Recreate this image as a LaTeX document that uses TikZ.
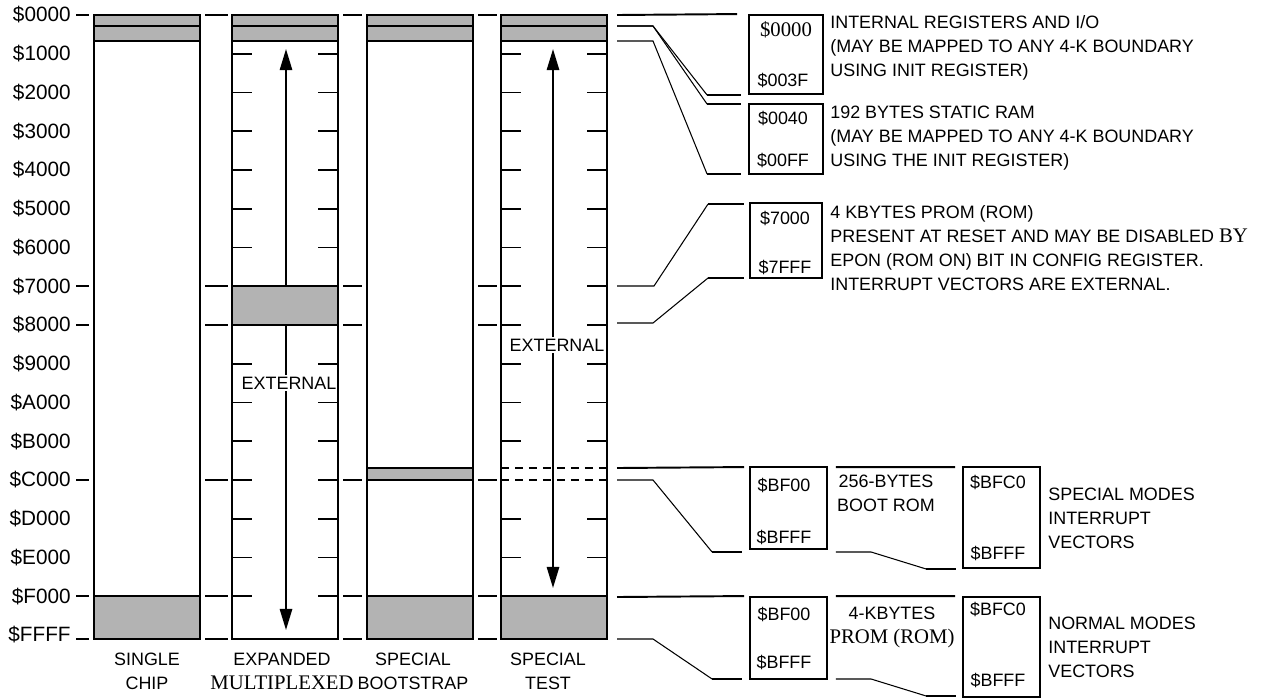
\documentclass[tikz,border=0pt]{standalone}
\usepackage{fontspec}
\setmainfont{Liberation Sans}
\newfontfamily\romanfont{Liberation Serif}
\usepackage{tikz}
\usetikzlibrary{arrows.meta,positioning,calc}
\definecolor{romfill}{HTML}{B3B3B3}
\newcommand{\txtsize}{\fontsize{10.2pt}{13.6pt}\selectfont}
\newcommand{\axsize}{\fontsize{11.8pt}{13.6pt}\selectfont}
\newcommand{\rmsize}{\romanfont\fontsize{11.8pt}{13.6pt}\selectfont}
\tikzset{
  memline/.style={line width=1.1pt},
  lead/.style={line width=0.6pt},
  band/.style={fill=romfill},
  addrbox/.style={draw, line width=1.1pt, inner sep=0pt, minimum width=1.54cm},
  txt/.style={font=\txtsize, inner sep=0pt},
  desc/.style={txt, align=left, anchor=north west},
}

\begin{document}
\begin{tikzpicture}[x=0.02cm, y=-0.02cm, >={Triangle[length=12pt,width=7pt]}]
\useasboundingbox (0,0) rectangle (1285,698);

% address axis
\foreach \a [count=\k from 0] in {0000,1000,2000,3000,4000,5000,6000,7000,8000,9000,A000,B000,C000,D000,E000,F000,FFFF}
  \node[txt, font=\axsize, anchor=east] (addr\k) at (71,{15+38.75*\k}) {\$\a};

% external arrows
\draw[memline, <->] (286,49) -- (286,630);
\draw[memline, <->] (553,49) -- (553,588);
\node[txt, fill=white, inner sep=1pt] (ext2) at (289,383) {EXTERNAL};
\node[txt, fill=white, inner sep=1pt] (ext4) at (557,345) {EXTERNAL};

% shaded areas
\foreach \cx in {94,232,367,501}
  \fill[band] (\cx,15) rectangle ++(106,26);
\foreach \cx in {94,367,501}
  \fill[band] (\cx,596) rectangle ++(106,43);
\fill[band] (232,286) rectangle (338,325);
\fill[band] (367,468) rectangle (473,480);

% memory columns
\foreach \cx in {94,232,367,501}{
  \draw[memline] (\cx,15) rectangle ++(106,624);
  \draw[memline] (\cx,26) -- ++(106,0) (\cx,41) -- ++(106,0);
}
\foreach \cx in {94,367,501}
  \draw[memline] (\cx,596) -- ++(106,0);
\draw[memline] (232,286) -- ++(106,0) (232,325) -- ++(106,0);
\draw[memline] (367,468) -- ++(106,0) (367,480) -- ++(106,0);
\draw[memline, dash pattern=on 0.16cm off 0.12cm] (501,468) -- (607,468) (501,480) -- (607,480);

% 4K ticks inside the expanded columns
\foreach \k in {1,...,6,9,10,...,15}
  \draw[memline] (232,{15+38.75*\k}) -- ++(20,0) (338,{15+38.75*\k}) -- ++(-20,0);
\foreach \k in {1,...,11,13,14}
  \draw[memline] (501,{15+38.75*\k}) -- ++(20,0) (607,{15+38.75*\k}) -- ++(-20,0);

% boundary marks between columns
\foreach \y in {15,286,325,480,596,639}
  \draw[memline] (76,\y) -- (89,\y) (205,\y) -- (228,\y) (343,\y) -- (362,\y) (478,\y) -- (497,\y);

% mode names
\node[txt, align=center, anchor=north] (single) at (147,652.5) {SINGLE\\CHIP};
\node[txt, align=center, anchor=north] (expanded) at (282,652.5) {EXPANDED\\{\rmsize MULTIPLEXED}};
\node[txt, align=center, anchor=north] (bootstrap) at (413,652.5) {SPECIAL\\BOOTSTRAP};
\node[txt, align=center, anchor=north] (test) at (548,652.5) {SPECIAL\\TEST};

% detail boxes
\node[addrbox, minimum width=1.48cm, minimum height=1.58cm] (regA) at (786,54.5) {};
\node[addrbox, minimum width=1.48cm, minimum height=1.40cm] (regB) at (786,139) {};
\node[addrbox, minimum width=1.44cm, minimum height=1.50cm] (romA) at (786,240.5) {};
\node[addrbox, minimum height=1.64cm] (bootA) at (788.5,508) {};
\node[addrbox, minimum height=2.02cm] (vecA) at (1001.5,517.5) {};
\node[addrbox, minimum height=1.64cm] (bootB) at (788.5,638) {};
\node[addrbox, minimum height=2.00cm] (vecB) at (1001.5,647) {};

\node[txt] (regAlo) at (786,30) {\rmsize\$0000};
\node[txt] (regAhi) at (783,80) {\$003F};
\node[txt] (regBlo) at (783,118) {\$0040};
\node[txt] (regBhi) at (783,160) {\$00FF};
\node[txt] (romAlo) at (785,218) {\$7000};
\node[txt] (romAhi) at (785,267) {\$7FFF};
\node[txt] (bootAlo) at (784,485) {\$BF00};
\node[txt] (bootAhi) at (784,537) {\$BFFF};
\node[txt] (vecAlo) at (998,482) {\$BFC0};
\node[txt] (vecAhi) at (998,553) {\$BFFF};
\node[txt] (bootBlo) at (784,614) {\$BF00};
\node[txt] (bootBhi) at (784,662) {\$BFFF};
\node[txt] (vecBlo) at (998,609) {\$BFC0};
\node[txt] (vecBhi) at (998,680) {\$BFFF};

% descriptions
\node[desc] (regAtxt) at (830,15.5) {INTERNAL REGISTERS AND I/O\\(MAY BE MAPPED TO ANY 4-K BOUNDARY\\USING INIT REGISTER)};
\node[desc] (regBtxt) at (830,105.5) {192 BYTES STATIC RAM\\(MAY BE MAPPED TO ANY 4-K BOUNDARY\\USING THE INIT REGISTER)};
\node[desc] (romAtxt) at (830,205.5) {4 KBYTES PROM (ROM)\\PRESENT AT RESET AND MAY BE DISABLED {\rmsize BY}\\EPON (ROM ON) BIT IN CONFIG REGISTER.\\INTERRUPT VECTORS ARE EXTERNAL.};
\node[txt, align=center, anchor=north] (bootAtxt) at (886,474.5) {256-BYTES\\BOOT ROM};
\node[desc] (vecAtxt) at (1048,487.5) {SPECIAL MODES\\INTERRUPT\\VECTORS};
\node[txt, align=center, anchor=north] (bootBtxt) at (892,606.5) {4-KBYTES\\{\rmsize PROM (ROM)}};
\node[desc] (vecBtxt) at (1048,616.5) {NORMAL MODES\\INTERRUPT\\VECTORS};

% leaders from the test column
\coordinate (e0) at (617,15);
\coordinate (e1) at (617,26);
\coordinate (e2) at (617,41);
\coordinate (e7) at (617,286);
\coordinate (e8) at (617,323);
\coordinate (eC0) at (617,468);
\coordinate (eC1) at (617,480);
\coordinate (eF0) at (617,597);
\coordinate (eFF) at (617,639);

\draw[memline] (e0) -- ($(regA.north west)+(-11,0)$);
\draw[lead] (e1) -- ++(36,0) -- ($(regA.south west)+(-41,0)$) coordinate (k1);
\draw[memline] (k1) -- ++(34,0);
\draw[lead] (e1) -- ++(36,0) -- ($(regB.north west)+(-41,1)$) coordinate (k2);
\draw[memline] (k2) -- ++(34,0);
\draw[lead] (e2) -- ++(36,0) -- ($(regB.south west)+(-41,-1)$) coordinate (k3);
\draw[memline] (k3) -- ++(34,0);

\draw[lead] (e7) -- ++(37,0) -- ($(romA.north west)+(-41,2)$) coordinate (k4);
\draw[memline] (k4) -- ++(36,0);
\draw[lead] (e8) -- ++(36,0) -- ($(romA.south west)+(-41,-1)$) coordinate (k5);
\draw[memline] (k5) -- ++(36,0);

\draw[memline] (eC0) -- ($(bootA.north west)+(-5,1)$);
\draw[lead] (eC1) -- ++(36,0) -- ($(bootA.south west)+(-37,2)$) coordinate (k6);
\draw[memline] (k6) -- ++(30,0);
\draw[memline] ($(bootA.north east)+(8,1)$) -- ($(vecA.north west)+(-7,1)$);
\draw[lead] ($(bootA.south east)+(8,2)$) -- ++(35,0) -- ($(vecA.south west)+(-36,0)$) coordinate (k7);
\draw[memline] (k7) -- ++(30,0);

\draw[memline] (eF0) -- ($(bootB.north west)+(-5,0)$);
\draw[lead] (eFF) -- ++(36,0) -- ($(bootB.south west)+(-37,-1)$) coordinate (k8);
\draw[memline] (k8) -- ++(30,0);
\draw[memline] ($(bootB.north east)+(8,0)$) -- ($(vecB.north west)+(-7,0)$);
\draw[lead] ($(bootB.south east)+(8,-1)$) -- ++(35,0) -- ($(vecB.south west)+(-36,-2)$) coordinate (k9);
\draw[memline] (k9) -- ++(30,0);
\end{tikzpicture}
\end{document}
